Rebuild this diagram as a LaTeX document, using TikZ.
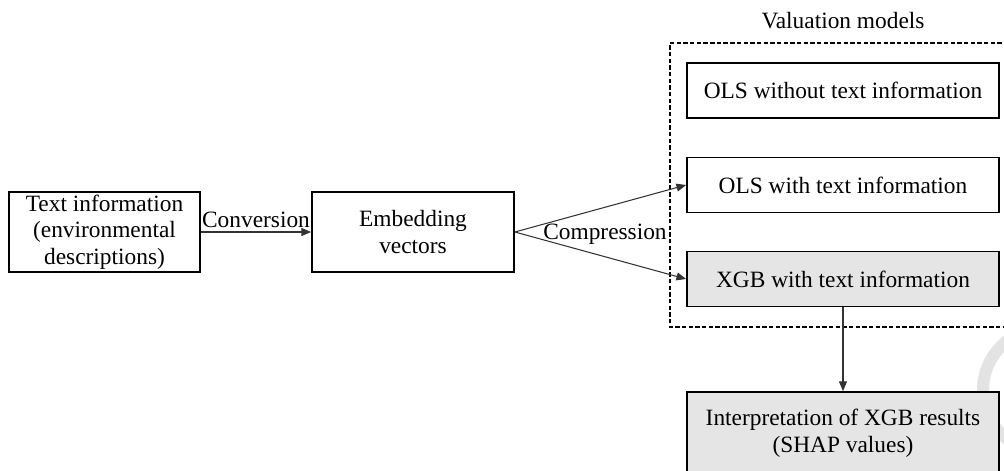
\documentclass[tikz,border=0pt]{standalone}
\usepackage{fontspec}
\setmainfont{Liberation Serif}
\usepackage{tikz}
\usetikzlibrary{arrows.meta,positioning,calc}

\begin{document}
\begin{tikzpicture}[every node/.style={font=\fontsize{13.3}{15.2}\selectfont,text=black},
  box/.style={draw,line width=1pt,align=center,inner sep=0pt},
  link/.style={-{Triangle[length=5.5pt,width=4.5pt]},line width=0.6pt,black!80}]
\useasboundingbox (0,0) rectangle (20.08,-9.4);
% faint ring in the lower right corner
\draw[gray!22,line width=0.24cm] (20.9,-7.8) circle (1.24);
\node[box,minimum width=3.82cm,minimum height=1.6cm] (T) at (2.09,-4.64) {Text information\\(environmental\\descriptions)};
\node[box,minimum width=4.04cm,minimum height=1.6cm] (E) at (8.26,-4.64) {Embedding\\vectors};
\node[box,minimum width=6.24cm,minimum height=1.1cm] (O1) at (16.86,-1.81) {OLS without text information};
\node[box,minimum width=6.24cm,minimum height=1.1cm] (O2) at (16.86,-3.70) {OLS with text information};
\node[box,fill=gray!20,minimum width=6.24cm,minimum height=1.1cm] (X) at (16.86,-5.58) {XGB with text information};
\node[box,fill=gray!20,minimum width=6.24cm,minimum height=1.64cm] (S) at (16.86,-8.66) {Interpretation of XGB results\\(SHAP values)};
% group of valuation models
\draw[line width=0.6pt,dash pattern=on 2.5pt off 1.3pt] (20.3,-0.86) -- (13.4,-0.86) -- (13.4,-6.54) -- (20.3,-6.54);
\node (V) at (16.86,-0.42) {Valuation models};
\draw[link] (T) -- (E) node[midway,above=-1pt]{Conversion};
\draw[link] (E.east) -- (O2.west);
\draw[link] (E.east) -- (X.west);
\node (C) at (12.1,-4.68) {Compression};
\draw[link] (X) -- (S);
\end{tikzpicture}
\end{document}
